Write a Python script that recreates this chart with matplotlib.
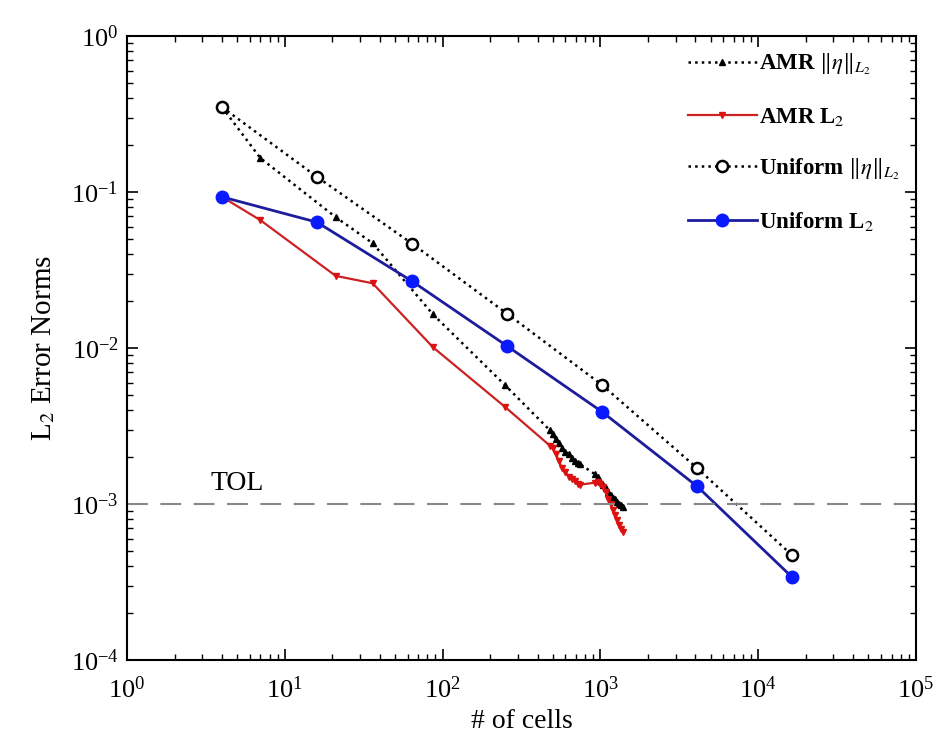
import matplotlib
matplotlib.use("Agg")
import matplotlib.pyplot as plt
from matplotlib.ticker import LogLocator, NullFormatter

plt.rcParams['font.family'] = ['Liberation Serif', 'DejaVu Serif']
plt.rcParams['mathtext.fontset'] = 'stix'

# ---- data ----
uniform_cells = [4, 16, 64, 256, 1024, 4096, 16384]
uniform_eta = [0.35, 0.125, 0.0467, 0.0166, 0.0058, 0.0017, 0.00047]
uniform_l2 = [0.093, 0.064, 0.0268, 0.0103, 0.0039, 0.0013, 0.00034]

amr_cells = [4, 7, 21, 36, 87, 248, 480, 500, 520, 545, 570, 600, 630, 660,
             690, 720, 745, 925, 960, 1000, 1040, 1080, 1120, 1160, 1200,
             1240, 1280, 1320, 1360, 1390]
amr_eta = [0.35, 0.165, 0.069, 0.047, 0.0164, 0.0058, 0.00296, 0.0028, 0.0026,
           0.00245, 0.0023, 0.00215, 0.0021, 0.00198, 0.00188, 0.00183, 0.0018,
           0.00155, 0.00148, 0.0014, 0.00133, 0.00127, 0.0012, 0.00115, 0.0011,
           0.00107, 0.00103, 0.001, 0.00098, 0.00096]
amr_l2 = [0.093, 0.066, 0.029, 0.026, 0.0101, 0.0042, 0.00236, 0.0023, 0.0021,
          0.0019, 0.0017, 0.0016, 0.0015, 0.00145, 0.0014, 0.00135, 0.00133,
          0.00137, 0.00139, 0.00135, 0.00128, 0.0012, 0.00108, 0.001, 0.00092,
          0.00085, 0.00079, 0.00073, 0.00069, 0.00066]

tol = 1e-3

labels = [r'AMR $\Vert\eta\Vert_{L_2}$', r'AMR L$_2$',
          r'Uniform $\Vert\eta\Vert_{L_2}$', r'Uniform L$_2$']

fig = plt.figure(figsize=(9.36, 7.42), dpi=100)
ax = fig.add_axes([0.1357, 0.1105, 0.8429, 0.841])

ax.plot(amr_cells, amr_eta, linestyle=':', color='black', lw=1.8,
        marker='^', ms=5, mfc='black', mec='black', label=labels[0])
ax.plot(amr_cells, amr_l2, linestyle='-', color='#cc2222', lw=1.6,
        marker='v', ms=5, mfc='#dd1111', mec='#dd1111', label=labels[1])
ax.plot(uniform_cells, uniform_eta, linestyle=':', color='black', lw=1.8,
        marker='o', ms=8, mfc='white', mec='black', mew=1.8, label=labels[2])
ax.plot(uniform_cells, uniform_l2, linestyle='-', color='#1c1c9c', lw=2.0,
        marker='o', ms=9, mfc='#0a1aff', mec='#0a1aff', label=labels[3])

ax.axhline(tol, color='#888888', lw=1.5, linestyle=(0, (10, 6)))
ax.text(3.4, 1.12e-3, 'TOL', fontsize=20, ha='left', va='bottom')

ax.set_xscale('log')
ax.set_yscale('log')
ax.set_xlim(1, 1e5)
ax.set_ylim(1e-4, 1)

ax.xaxis.set_major_locator(LogLocator(base=10, numticks=10))
ax.yaxis.set_major_locator(LogLocator(base=10, numticks=10))
ax.xaxis.set_minor_locator(LogLocator(base=10, subs=range(2, 10), numticks=20))
ax.yaxis.set_minor_locator(LogLocator(base=10, subs=range(2, 10), numticks=20))
ax.xaxis.set_minor_formatter(NullFormatter())
ax.yaxis.set_minor_formatter(NullFormatter())

ax.tick_params(which='both', direction='in', top=True, right=True,
               labelsize=19)
ax.tick_params(which='major', length=8, width=1.2)
ax.tick_params(which='minor', length=4, width=1.0)
ax.tick_params(axis='x', pad=12)
ax.tick_params(axis='y', pad=6)
for s in ax.spines.values():
    s.set_linewidth(1.5)

ax.set_xlabel('# of cells', fontsize=20, labelpad=4)
ax.set_ylabel(r'L$_2$ Error Norms', fontsize=21, labelpad=10)

leg = ax.legend(loc='upper right', frameon=False,
                prop={'weight': 'bold', 'size': 16.5}, handlelength=3.0,
                handletextpad=0.1, labelspacing=1.25, borderaxespad=0.3)

fig.savefig('out.png', dpi=100)
